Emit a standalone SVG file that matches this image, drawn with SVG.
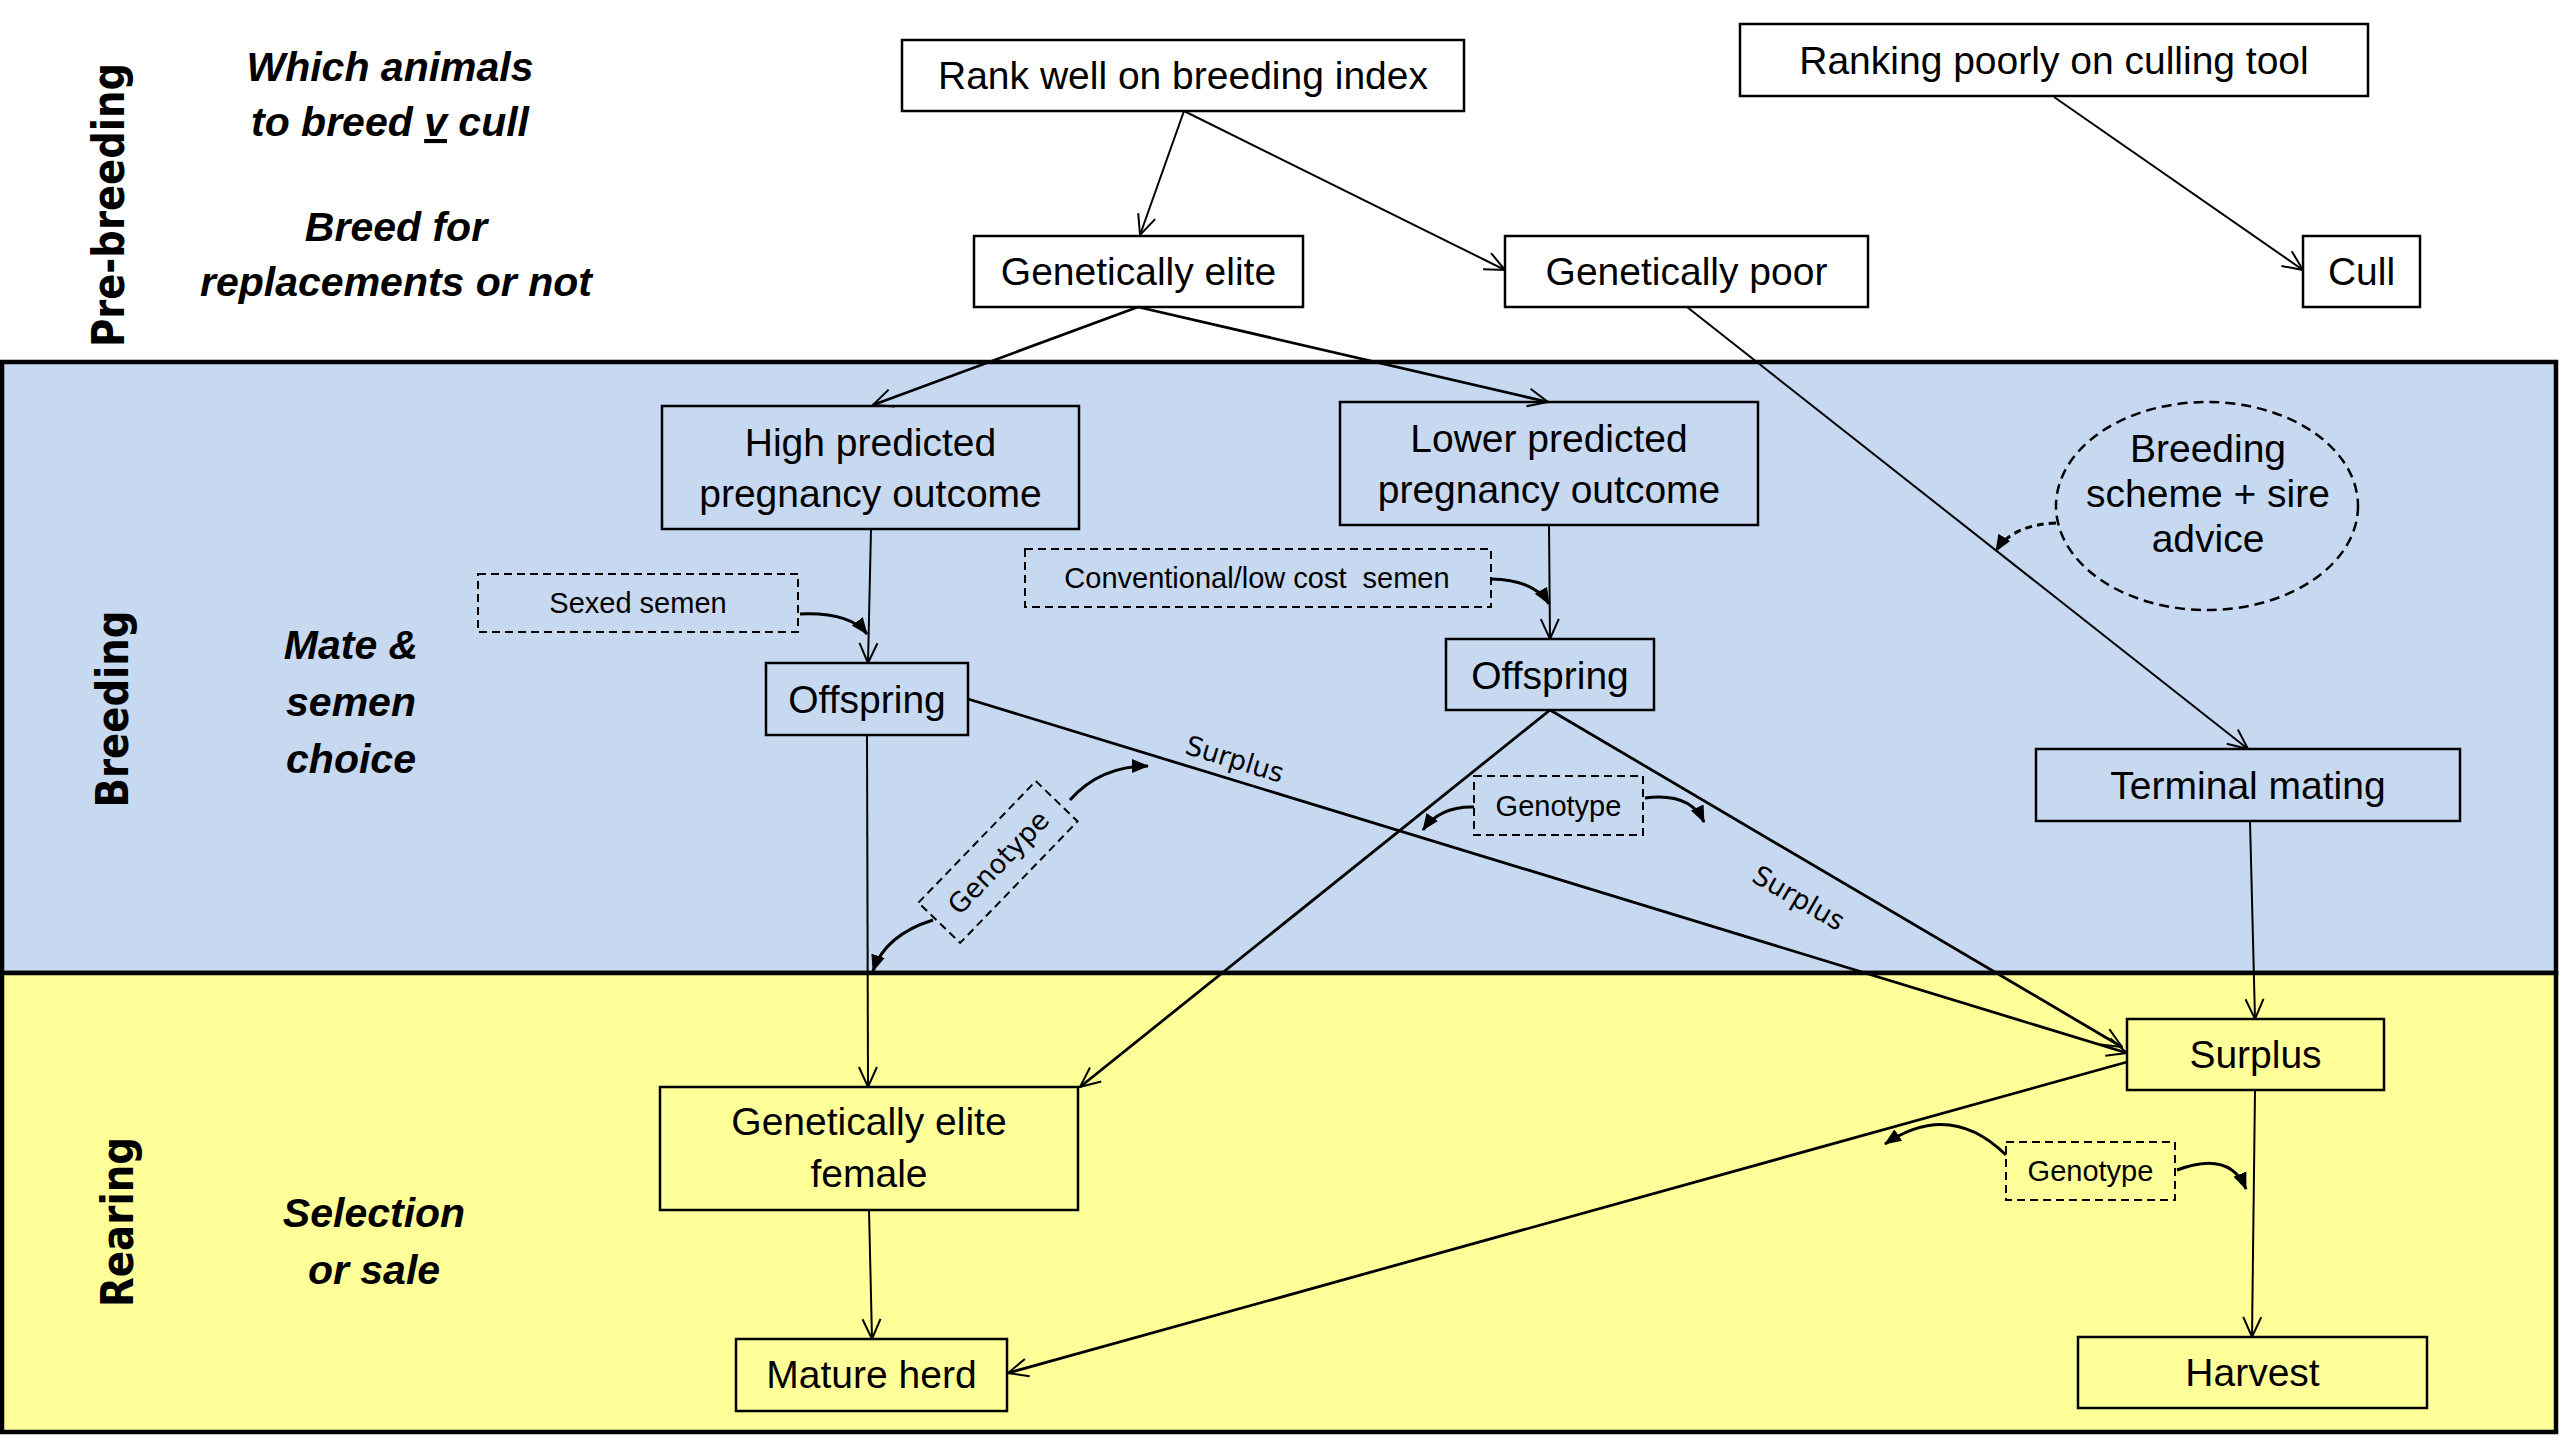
<svg xmlns="http://www.w3.org/2000/svg" width="2560" height="1440" viewBox="0 0 2560 1440">
<style>
  .box { fill: none; stroke: #000; stroke-width: 2.5; }
  .dbox { fill: none; stroke: #000; stroke-width: 2; stroke-dasharray: 8 5; }
  .t { font-family: "Liberation Sans", Arial, sans-serif; font-size: 39px; fill: #000; text-anchor: middle; }
  .ts { font-family: "Liberation Sans", Arial, sans-serif; font-size: 29px; fill: #000; text-anchor: middle; }
  .tv { font-family: "DejaVu Sans", Verdana, sans-serif; font-size: 27px; fill: #000; text-anchor: middle; }
  .lane { font-family: "DejaVu Sans", Verdana, sans-serif; font-weight: bold; font-size: 44px; fill: #000; text-anchor: middle; }
  .it { font-family: "Liberation Sans", Arial, sans-serif; font-weight: bold; font-style: italic; font-size: 41px; fill: #000; text-anchor: middle; }
  .c { fill: none; stroke: #000; stroke-width: 2; marker-end: url(#open); }
  .cb { fill: none; stroke: #000; stroke-width: 2.8; marker-end: url(#open); }
  .a { fill: none; stroke: #000; stroke-width: 3; marker-end: url(#fill); }
</style>
<defs>
  <marker id="open" markerUnits="userSpaceOnUse" viewBox="0 0 22 22" refX="21" refY="11" markerWidth="22" markerHeight="22" orient="auto">
    <path d="M1,2 L21,11 L1,20" fill="none" stroke="#000" stroke-width="2"/>
  </marker>
  <marker id="fill" markerUnits="userSpaceOnUse" viewBox="0 0 18 16" refX="16" refY="8" markerWidth="18" markerHeight="16" orient="auto">
    <path d="M0,1 L17,8 L0,15 z" fill="#000"/>
  </marker>
</defs>

<rect x="0" y="0" width="2560" height="1440" fill="#fff"/>

<g id="lanes">
  <rect x="2" y="362" width="2554" height="611" fill="#C6D9F0" stroke="#000" stroke-width="4.5"/>
  <rect x="2" y="973" width="2554" height="459" fill="#FFFF99" stroke="#000" stroke-width="4.5"/>
  <text class="lane" transform="translate(124,205) rotate(-90)" textLength="284" lengthAdjust="spacingAndGlyphs">Pre-breeding</text>
  <text class="lane" transform="translate(128,709) rotate(-90)" textLength="197" lengthAdjust="spacingAndGlyphs">Breeding</text>
  <text class="lane" transform="translate(133,1222) rotate(-90)" textLength="170" lengthAdjust="spacingAndGlyphs">Rearing</text>
</g>

<g id="stage-labels">
  <text class="it" x="390" y="81">Which animals</text>
  <text class="it" x="390" y="136">to breed <tspan text-decoration="underline">v</tspan> cull</text>
  <text class="it" x="396" y="241">Breed for</text>
  <text class="it" x="396" y="296">replacements or not</text>
  <text class="it" x="351" y="659">Mate &amp;</text>
  <text class="it" x="351" y="716">semen</text>
  <text class="it" x="351" y="773">choice</text>
  <text class="it" x="374" y="1227">Selection</text>
  <text class="it" x="374" y="1284">or sale</text>
</g>

<g id="connectors">
  <path class="c" d="M1184,111 L1140,235"/>
  <path class="c" d="M1184,111 L1505,270"/>
  <path class="c" d="M2054,97 L2303,270"/>
  <path class="cb" d="M1138,307 L873,405"/>
  <path class="cb" d="M1138,307 L1548,402"/>
  <path class="c" d="M1687,307 L2248,749"/>
  <path class="c" d="M871,529 L868,663"/>
  <path class="c" d="M1549,525 L1550,639"/>
  <path class="cb" d="M968,699 L2127,1053"/>
  <path class="cb" d="M1550,710 L2122,1047"/>
  <path class="cb" d="M1550,710 L1080,1087"/>
  <path class="c" d="M867,735 L868,1087"/>
  <path class="c" d="M2250,821 L2255,1019"/>
  <path class="cb" d="M2127,1062 L1008,1373"/>
  <path class="c" d="M2255,1090 L2252,1337"/>
  <path class="c" d="M869,1210 L872,1339"/>
  <text class="tv" transform="translate(1232,768) rotate(17)">Surplus</text>
  <text class="tv" transform="translate(1794,906) rotate(30)">Surplus</text>
  <!-- annotation arrows -->
  <path class="a" d="M800,614 Q850,612 867,634"/>
  <path class="a" d="M1491,579 Q1535,580 1549,604"/>
  <path class="a" d="M2056,523 Q2012,525 1996,551" stroke-dasharray="7 5"/>
  <path class="a" d="M1070,800 Q1100,766 1148,766"/>
  <path class="a" d="M933,920 Q885,935 873,971"/>
  <path class="a" d="M1474,807 Q1440,806 1423,830"/>
  <path class="a" d="M1645,798 Q1690,792 1704,822"/>
  <path class="a" d="M2006,1155 Q1950,1100 1885,1144"/>
  <path class="a" d="M2177,1170 Q2230,1150 2246,1189"/>
</g>

<g id="n-rank"><rect class="box" x="902" y="40" width="562" height="71"/><text class="t" x="1183" y="89">Rank well on breeding index</text></g>
<g id="n-culltool"><rect class="box" x="1740" y="24" width="628" height="72"/><text class="t" x="2054" y="74">Ranking poorly on culling tool</text></g>
<g id="n-elite"><rect class="box" x="974" y="236" width="329" height="71"/><text class="t" x="1138.5" y="285">Genetically elite</text></g>
<g id="n-poor"><rect class="box" x="1505" y="236" width="363" height="71"/><text class="t" x="1686.5" y="285">Genetically poor</text></g>
<g id="n-cull"><rect class="box" x="2303" y="236" width="117" height="71"/><text class="t" x="2361.5" y="285">Cull</text></g>
<g id="n-high"><rect class="box" x="662" y="406" width="417" height="123"/><text class="t" x="870.5" y="456">High predicted</text><text class="t" x="870.5" y="507">pregnancy outcome</text></g>
<g id="n-lower"><rect class="box" x="1340" y="402" width="418" height="123"/><text class="t" x="1549" y="452">Lower predicted</text><text class="t" x="1549" y="503">pregnancy outcome</text></g>
<g id="n-sexed"><rect class="dbox" x="478" y="574" width="320" height="58"/><text class="ts" x="638" y="613" font-size="28">Sexed semen</text></g>
<g id="n-conv"><rect class="dbox" x="1025" y="549" width="466" height="58"/><text class="ts" x="1257" y="588">Conventional/low cost&#160; semen</text></g>
<g id="n-off1"><rect class="box" x="766" y="663" width="202" height="72"/><text class="t" x="867" y="713">Offspring</text></g>
<g id="n-off2"><rect class="box" x="1446" y="639" width="208" height="71"/><text class="t" x="1550" y="689">Offspring</text></g>
<g id="n-scheme"><ellipse cx="2207" cy="506" rx="151" ry="104" fill="none" stroke="#000" stroke-width="2.5" stroke-dasharray="10 6"/><text class="t" x="2208" y="462" font-size="33">Breeding</text><text class="t" x="2208" y="507" font-size="33">scheme + sire</text><text class="t" x="2208" y="552" font-size="33">advice</text></g>
<g id="n-terminal"><rect class="box" x="2036" y="749" width="424" height="72"/><text class="t" x="2248" y="799">Terminal mating</text></g>
<g id="n-geno1"><rect class="dbox" x="-84.5" y="-29" width="169" height="58" transform="translate(998,862) rotate(-46)"/><text class="tv" transform="translate(998,862) rotate(-46)" y="10">Genotype</text></g>
<g id="n-geno2"><rect class="dbox" x="1474" y="776" width="169" height="59"/><text class="ts" x="1558.5" y="816">Genotype</text></g>
<g id="n-surplus"><rect class="box" x="2127" y="1019" width="257" height="71"/><text class="t" x="2255.5" y="1068">Surplus</text></g>
<g id="n-geno3"><rect class="dbox" x="2006" y="1142" width="169" height="58"/><text class="ts" x="2090.5" y="1181">Genotype</text></g>
<g id="n-femal"><rect class="box" x="660" y="1087" width="418" height="123"/><text class="t" x="869" y="1135">Genetically elite</text><text class="t" x="869" y="1187">female</text></g>
<g id="n-mature"><rect class="box" x="736" y="1339" width="271" height="72"/><text class="t" x="871.5" y="1388">Mature herd</text></g>
<g id="n-harvest"><rect class="box" x="2078" y="1337" width="349" height="71"/><text class="t" x="2252.5" y="1386">Harvest</text></g>
</svg>
